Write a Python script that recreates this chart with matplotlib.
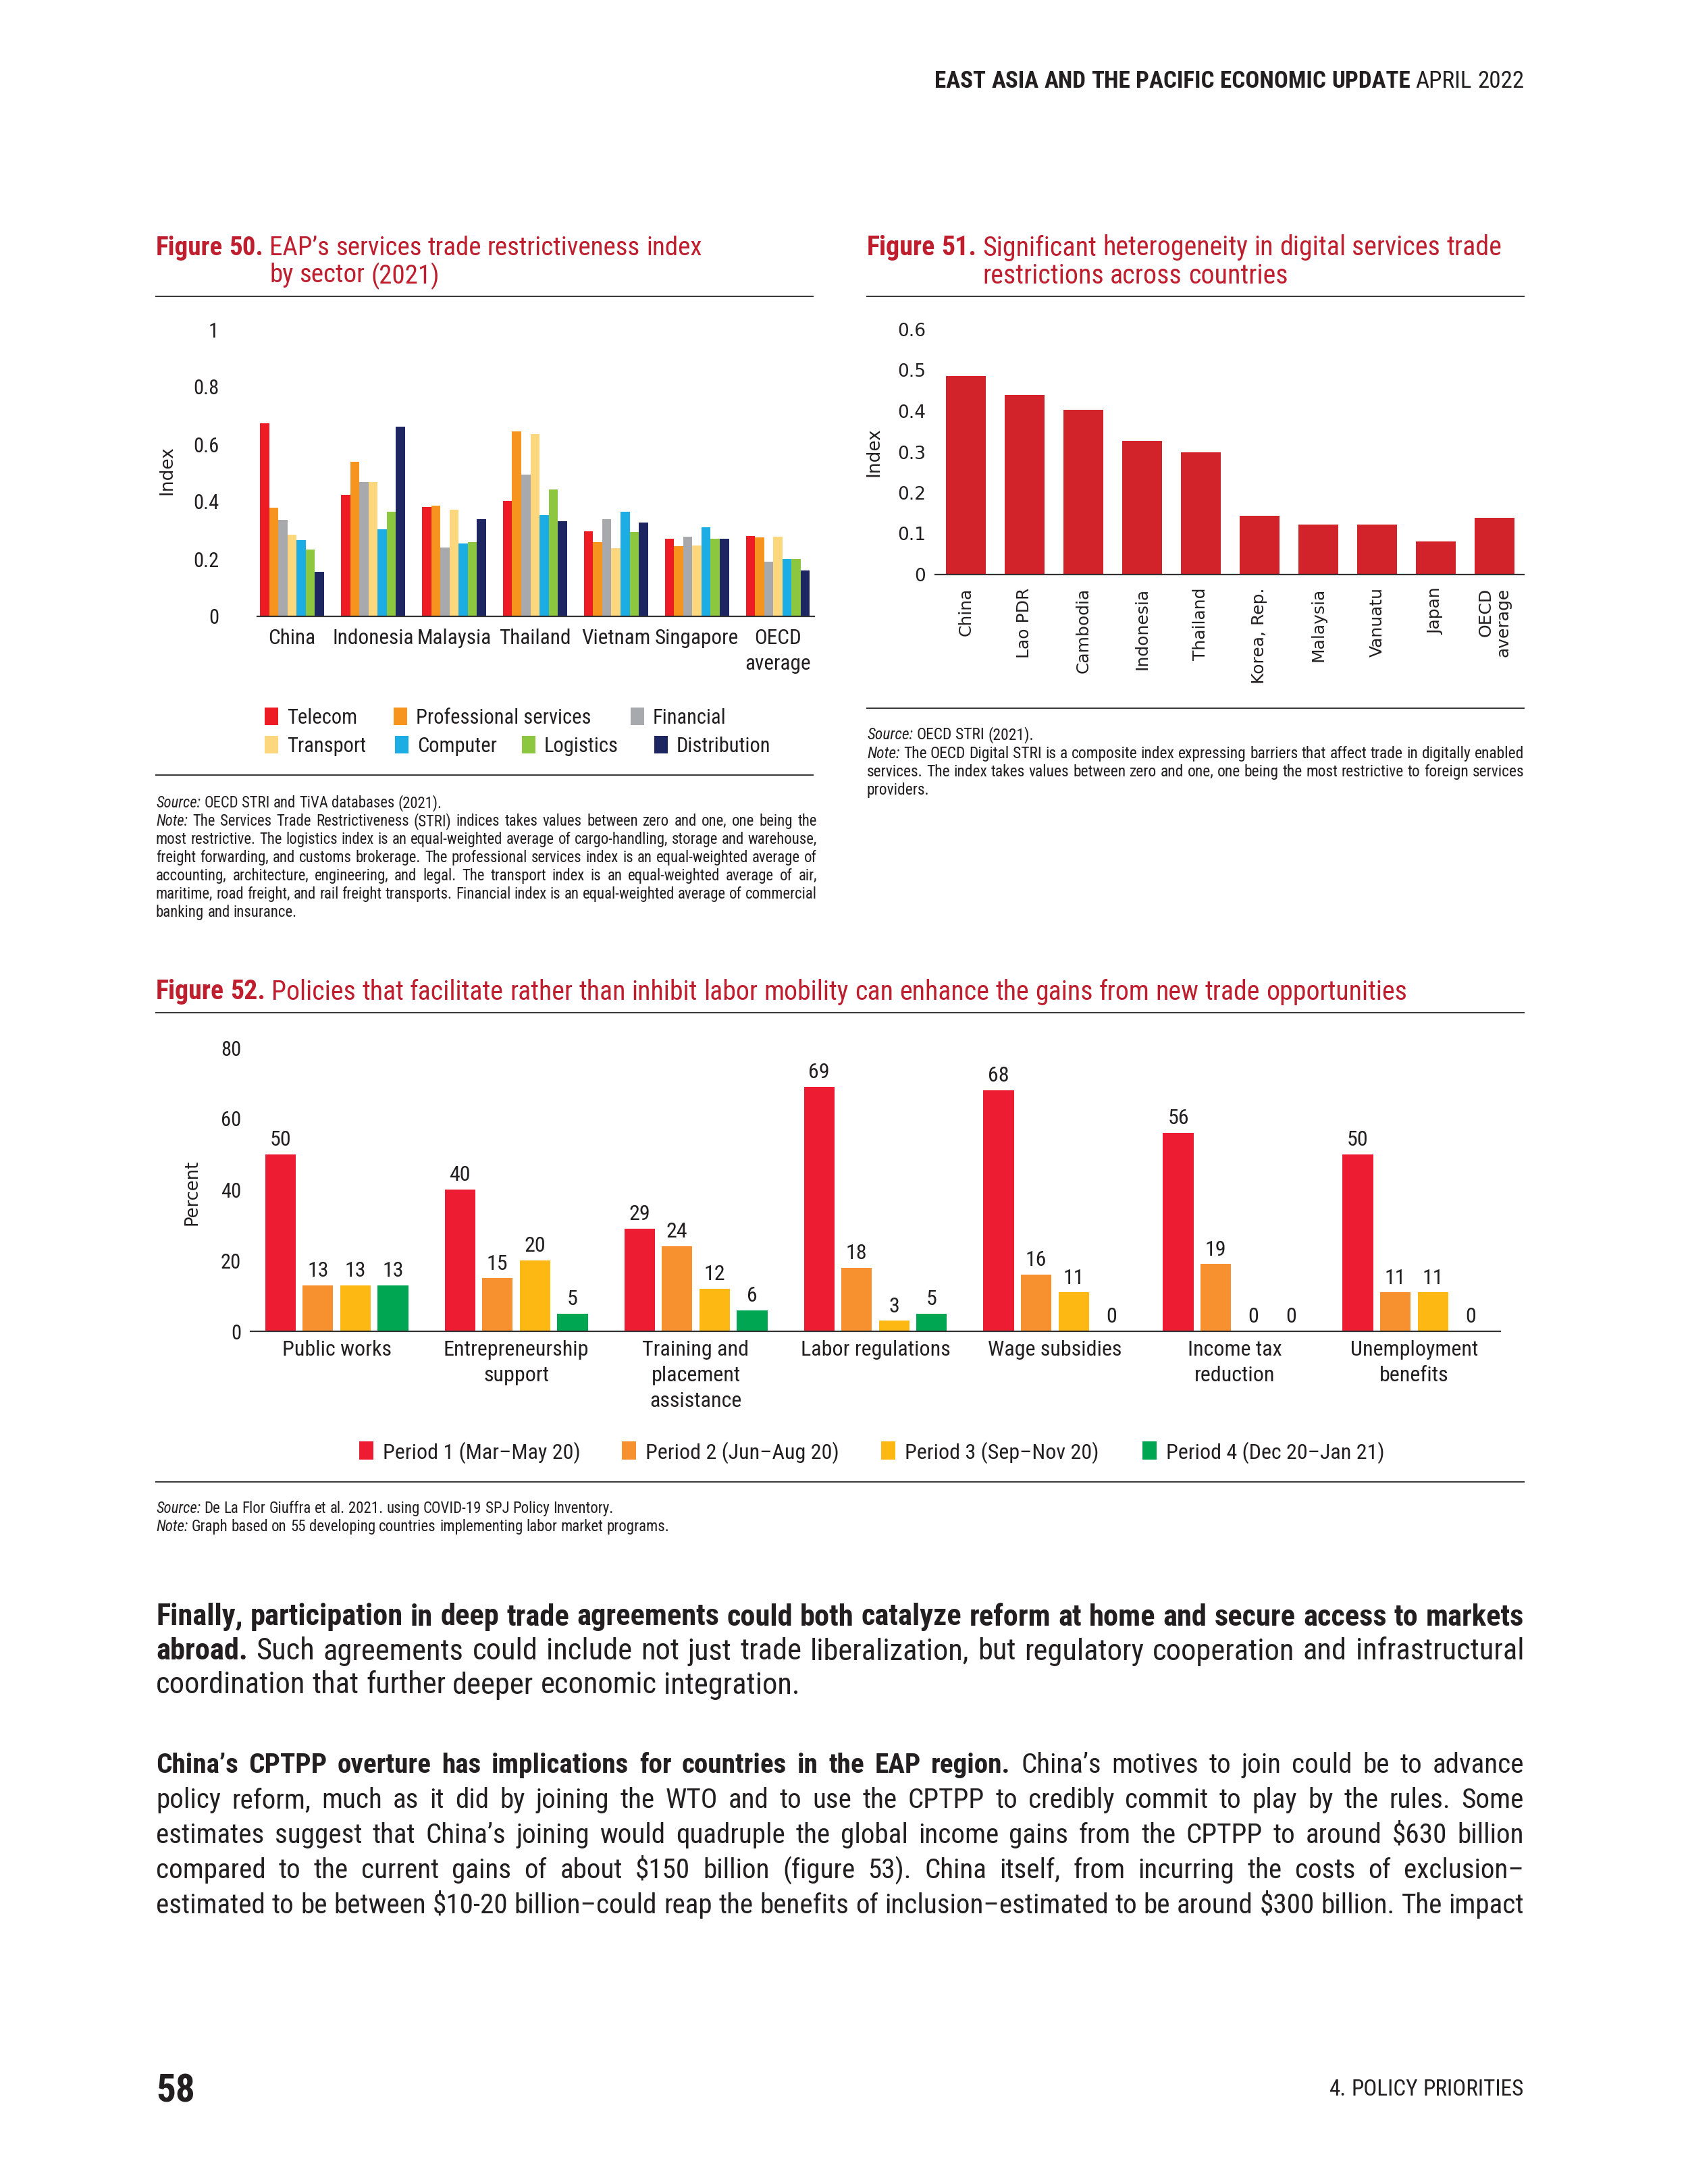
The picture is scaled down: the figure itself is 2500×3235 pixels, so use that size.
import matplotlib
matplotlib.use('Agg')
import matplotlib.pyplot as plt
from matplotlib import font_manager
from matplotlib.patches import Rectangle
from matplotlib.lines import Line2D
import numpy as np

W, H = 2500, 3235

names = {f.name for f in font_manager.fontManager.ttflist}
NARROW = 'DejaVu Sans'
for n in ['Liberation Sans Narrow', 'Roboto Condensed', 'Open Sans Condensed', 'Liberation Sans']:
    if n in names:
        NARROW = n
        break
PLAIN = 'DejaVu Sans'

TXT = '#231F20'
RED_T = '#BE1E2D'
RULE = '#3A3A3A'

# ---- Figure 50 data ----
countries50 = ['China', 'Indonesia', 'Malaysia', 'Thailand', 'Vietnam', 'Singapore', 'OECD\naverage']
telecom = [0.674, 0.424, 0.382, 0.402, 0.296, 0.271, 0.281]
professional = [0.380, 0.538, 0.385, 0.645, 0.259, 0.245, 0.276]
financial = [0.337, 0.468, 0.239, 0.493, 0.338, 0.277, 0.190]
transport = [0.285, 0.468, 0.372, 0.635, 0.238, 0.247, 0.277]
computer = [0.266, 0.303, 0.255, 0.353, 0.364, 0.311, 0.201]
logistics = [0.233, 0.365, 0.259, 0.442, 0.295, 0.271, 0.201]
distribution = [0.156, 0.661, 0.338, 0.332, 0.326, 0.271, 0.161]
sectors = ['Telecom', 'Professional services', 'Financial', 'Transport', 'Computer', 'Logistics', 'Distribution']
sector_colors = ['#ED1C24', '#F7941D', '#A7A9AC', '#FDD77E', '#1CADE4', '#8DC63F', '#1D2660']
yticks50 = [0, 0.2, 0.4, 0.6, 0.8, 1]
ylabels50 = ['0', '0.2', '0.4', '0.6', '0.8', '1']

# ---- Figure 51 data ----
countries51 = ['China', 'Lao PDR', 'Cambodia', 'Indonesia', 'Thailand', 'Korea, Rep.',
               'Malaysia', 'Vanuatu', 'Japan', 'OECD\naverage']
digital_stri = [0.486, 0.439, 0.403, 0.328, 0.299, 0.143, 0.123, 0.123, 0.081, 0.139]
yticks51 = [0, 0.1, 0.2, 0.3, 0.4, 0.5, 0.6]
ylabels51 = ['0', '0.1', '0.2', '0.3', '0.4', '0.5', '0.6']

# ---- Figure 52 data ----
policies = ['Public works', 'Entrepreneurship\nsupport', 'Training and\nplacement\nassistance',
            'Labor regulations', 'Wage subsidies', 'Income tax\nreduction', 'Unemployment\nbenefits']
period1 = [50, 40, 29, 69, 68, 56, 50]
period2 = [13, 15, 24, 18, 16, 19, 11]
period3 = [13, 20, 12, 3, 11, 0, 11]
period4 = [13, 5, 6, 5, 0, 0, 0]
periods = ['Period 1 (Mar–May 20)', 'Period 2 (Jun–Aug 20)', 'Period 3 (Sep–Nov 20)', 'Period 4 (Dec 20–Jan 21)']
period_colors = ['#ED1C33', '#F7912F', '#FDB813', '#00A651']
yticks52 = [0, 20, 40, 60, 80]

fig = plt.figure(figsize=(W / 100, H / 100), dpi=100)
fig.patch.set_facecolor('white')
R = fig.canvas.get_renderer()

STY = {'r': {}, 'b': {'fontweight': 'bold'}, 'i': {'fontstyle': 'italic'}}


def fx(x):
    return x / W


def fy(y):
    return 1 - y / H


def rect(l, t, r, b):
    return [fx(l), fy(b), (r - l) / W, (b - t) / H]


def put(x, y, s, size, st='r', color=TXT, family=NARROW, **kw):
    return fig.text(fx(x), fy(y), s, fontsize=size, color=color, family=family,
                    va='center_baseline', **STY[st], **kw)


def wid(t):
    return t.get_window_extent(R).width


def space(size, family=NARROW, st='r'):
    a = put(0, 0, 'n n', size, st, family=family)
    b = put(0, 0, 'nn', size, st, family=family)
    d = wid(a) - wid(b)
    a.remove()
    b.remove()
    return d


def natural(runs, size, family=NARROW):
    ts = [put(0, 0, w, size, st, family=family) for txt, st in runs for w in txt.split()]
    tot = sum(wid(t) for t in ts) + space(size, family) * (len(ts) - 1)
    for t in ts:
        t.remove()
    return tot


def line(y, runs, size, x0=None, x1=None, xr=None, justify=False, fit=None,
         color=TXT, family=NARROW):
    if fit is not None:
        size = size * fit / natural(runs, size, family)
    ts = [put(0, y, w, size, st, color, family) for txt, st in runs for w in txt.split()]
    ws = [wid(t) for t in ts]
    sp = space(size, family)
    nat = sum(ws) + sp * (len(ts) - 1)
    gap = sp
    if justify and len(ts) > 1:
        gap = (x1 - x0 - sum(ws)) / (len(ts) - 1)
    if xr is not None:
        x0 = xr - nat
    xs = []
    x = x0
    for t, w in zip(ts, ws):
        t.set_position((fx(x), fy(y)))
        xs.append(x)
        x += w + gap
    return xs, size


def block(lines, ys, x0, x1, size, family=NARROW):
    f = 1.0
    for runs, just in lines:
        if just:
            f = min(f, (x1 - x0) / natural(runs, size, family))
    size = size * f
    for (runs, just), y in zip(lines, ys):
        line(y, runs, size, x0=x0, x1=x1, justify=just, family=family)


def hrule(x0, x1, y, lw=1.5):
    fig.add_artist(Line2D([fx(x0), fx(x1)], [fy(y), fy(y)], color=RULE, lw=lw,
                          transform=fig.transFigure))


def swatch(x, y, color, w=20, h=26):
    fig.add_artist(Rectangle((fx(x), fy(y + h / 2)), w / W, h / H, color=color,
                             transform=fig.transFigure, lw=0))


def style_axes(ax):
    for s in ['top', 'right', 'left']:
        ax.spines[s].set_visible(False)
    ax.spines['bottom'].set_color('#333333')
    ax.spines['bottom'].set_linewidth(1.6)
    ax.set_facecolor('none')


# ---- header / footer ----
line(117, [('EAST ASIA AND THE PACIFIC ECONOMIC UPDATE', 'b'), ('APRIL 2022', 'r')], 20,
     xr=2257, fit=874)
line(3092, [('58', 'b')], 30, x0=231, fit=58)
line(3092, [('4. POLICY PRIORITIES', 'r')], 18, xr=2257, fit=289)

# ---- Figure 50 ----
xs, tsz = line(363, [('Figure 50.', 'b'), ('EAP’s services trade restrictiveness index', 'r')], 26,
               x0=231, fit=808, color=RED_T)
line(404, [('by sector (2021)', 'r')], tsz, x0=xs[2], color=RED_T)
hrule(231, 1204, 439)

ax1 = fig.add_axes(rect(381, 488, 1206, 913))
style_axes(ax1)
x50 = np.arange(len(countries50))
bw = 0.113
series50 = [telecom, professional, financial, transport, computer, logistics, distribution]
for i, vals in enumerate(series50):
    ax1.bar(x50 + (i - 3) * bw, vals, bw, color=sector_colors[i], lw=0)
ax1.set_xlim(-0.43, 6.45)
ax1.set_ylim(0, 1)
ax1.set_yticks(yticks50, ylabels50, family=NARROW, fontsize=22, color=TXT)
ax1.set_xticks(x50, countries50, family=NARROW, fontsize=22.5, color=TXT, linespacing=1.4)
ax1.tick_params(axis='y', length=0, pad=41)
ax1.tick_params(axis='x', length=0, pad=13)
fig.text(fx(247), fy(697), 'Index', rotation=90, ha='center', va='center',
         fontsize=19, family=PLAIN, color=TXT)

leg50 = [(392, 1061), (583, 1061), (934, 1061), (392, 1103), (585, 1103), (773, 1103), (969, 1103)]
for (lx, ly), name, col in zip(leg50, sectors, sector_colors):
    swatch(lx, ly, col)
    put(lx + 33, ly, name, 22)
hrule(231, 1204, 1148)

w50 = 1210
block([([('Source:', 'i'), ('OECD STRI and TiVA databases (2021).', 'r')], False),
       ([('Note:', 'i'), ('The Services Trade Restrictiveness (STRI) indices takes values between zero and one, one being the', 'r')], True),
       ([('most restrictive. The logistics index is an equal-weighted average of cargo-handling, storage and warehouse,', 'r')], True),
       ([('freight forwarding, and customs brokerage. The professional services index is an equal-weighted average of', 'r')], True),
       ([('accounting, architecture, engineering, and legal. The transport index is an equal-weighted average of air,', 'r')], True),
       ([('maritime, road freight, and rail freight transports. Financial index is an equal-weighted average of commercial', 'r')], True),
       ([('banking and insurance.', 'r')], False)],
      [1187, 1214, 1241, 1268, 1295, 1322, 1349], 231, w50, 17)

# ---- Figure 51 ----
xs, tsz = line(363, [('Figure 51.', 'b'), ('Significant heterogeneity in digital services trade', 'r')], 26,
               x0=1284, fit=942, color=RED_T)
line(404, [('restrictions across countries', 'r')], tsz, x0=xs[2], color=RED_T)
hrule(1284, 2257, 439)

ax2 = fig.add_axes(rect(1385, 488, 2257, 851))
style_axes(ax2)
x51 = np.arange(len(countries51))
ax2.bar(x51, digital_stri, 0.68, color='#D2232A', lw=0)
ax2.set_xlim(-0.52, 9.5)
ax2.set_ylim(0, 0.6)
ax2.set_yticks(yticks51, ylabels51, family=PLAIN, fontsize=19, color=TXT)
ax2.set_xticks(x51, countries51, family=PLAIN, fontsize=18, color=TXT, rotation=90,
               multialignment='right', linespacing=1.1)
ax2.tick_params(axis='y', length=0, pad=10)
ax2.tick_params(axis='x', length=0, pad=14)
fig.text(fx(1294), fy(670), 'Index', rotation=90, ha='center', va='center',
         fontsize=19, family=PLAIN, color=TXT)
hrule(1284, 2257, 1049)

block([([('Source:', 'i'), ('OECD STRI (2021).', 'r')], False),
       ([('Note:', 'i'), ('The OECD Digital STRI is a composite index expressing barriers that affect trade in digitally enabled', 'r')], True),
       ([('services. The index takes values between zero and one, one being the most restrictive to foreign services', 'r')], True),
       ([('providers.', 'r')], False)],
      [1086, 1114, 1141, 1168], 1284, 2257, 17)

# ---- Figure 52 ----
line(1465, [('Figure 52.', 'b'), ('Policies that facilitate rather than inhibit labor mobility can enhance the gains from new trade opportunities', 'r')], 26,
     x0=231, fit=1855, color=RED_T)
hrule(231, 2257, 1500)

ax3 = fig.add_axes(rect(371, 1552, 2222, 1972))
style_axes(ax3)
x52 = np.arange(len(policies))
slot = 0.209
bw3 = 0.17
for i, vals in enumerate([period1, period2, period3, period4]):
    xp = x52 + (i - 1.5) * slot
    ax3.bar(xp, vals, bw3, color=period_colors[i], lw=0)
    for xx, v in zip(xp, vals):
        ax3.text(xx, v + 2.4, str(v), ha='center', va='baseline', fontsize=23,
                 family=NARROW, color=TXT)
ax3.set_xlim(-0.48, 6.48)
ax3.set_ylim(0, 80)
ax3.set_yticks(yticks52, [str(v) for v in yticks52], family=NARROW, fontsize=22, color=TXT)
ax3.set_xticks(x52, policies, family=NARROW, fontsize=23, color=TXT, linespacing=1.4)
ax3.tick_params(axis='y', length=0, pad=10)
ax3.tick_params(axis='x', length=0, pad=9)
fig.text(fx(284), fy(1766), 'Percent', rotation=90, ha='center', va='center',
         fontsize=18.5, family=PLAIN, color=TXT)

leg52 = [532, 921, 1305, 1692]
for lx, name, col in zip(leg52, periods, period_colors):
    swatch(lx, 2148, col, w=21, h=27)
    put(lx + 35, 2148, name, 23)
hrule(231, 2257, 2195)

line(2232, [('Source:', 'i'), ('De La Flor Giuffra et al. 2021. using COVID-19 SPJ Policy Inventory.', 'r')], 16.5, x0=231)
line(2259, [('Note:', 'i'), ('Graph based on 55 developing countries implementing labor market programs.', 'r')], 16.5, x0=231)

# ---- body text ----
block([([('Finally, participation in deep trade agreements could both catalyze reform at home and secure access to markets', 'b')], True),
       ([('abroad.', 'b'), ('Such agreements could include not just trade liberalization, but regulatory cooperation and infrastructural', 'r')], True),
       ([('coordination that further deeper economic integration.', 'r')], False)],
      [2391, 2442, 2492], 231, 2257, 32)

block([([('China’s CPTPP overture has implications for countries in the EAP region.', 'b'), ('China’s motives to join could be to advance', 'r')], True),
       ([('policy reform, much as it did by joining the WTO and to use the CPTPP to credibly commit to play by the rules. Some', 'r')], True),
       ([('estimates suggest that China’s joining would quadruple the global income gains from the CPTPP to around $630 billion', 'r')], True),
       ([('compared to the current gains of about $150 billion (figure 53). China itself, from incurring the costs of exclusion–', 'r')], True),
       ([('estimated to be between $10-20 billion–could reap the benefits of inclusion–estimated to be around $300 billion. The impact', 'r')], True)],
      [2611, 2663, 2714, 2766, 2818], 231, 2257, 32)

fig.savefig('out.png', dpi=100)
